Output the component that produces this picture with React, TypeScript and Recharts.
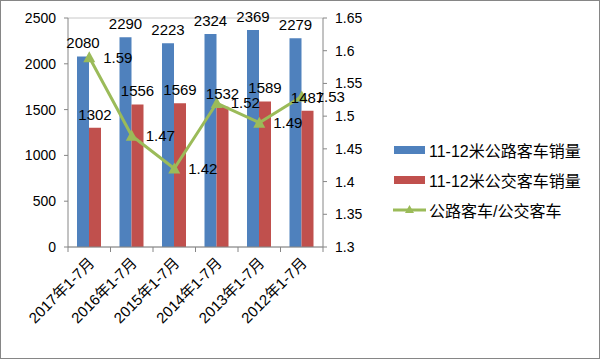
import { Bar, ComposedChart, CartesianGrid, LabelList, Legend, Line, XAxis, YAxis } from "recharts";

const categories = ["2017年1-7月", "2016年1-7月", "2015年1-7月", "2014年1-7月", "2013年1-7月", "2012年1-7月"];
const highwaySales = [2080, 2290, 2223, 2324, 2369, 2279];
const busSales = [1302, 1556, 1569, 1532, 1589, 1487];
const ratio = [1.59, 1.47, 1.42, 1.52, 1.49, 1.53];
const leftTicks = [0, 500, 1000, 1500, 2000, 2500];
const rightTicks = [1.3, 1.35, 1.4, 1.45, 1.5, 1.55, 1.6, 1.65];

const BLUE = "#4F81BD";
const RED = "#C0504D";
const GREEN = "#9BBB59";
const AXIS = "#868686";
const FONT = "'Liberation Sans', 'Noto Sans CJK SC', sans-serif";

const data = categories.map((name, i) => ({
  name,
  highway: highwaySales[i],
  bus: busSales[i],
  ratio: ratio[i],
}));

// plot spans 67..322 in chart coords, so each category is this wide
const BAND = (322 - 67) / categories.length;

function CategoryTick(props: any) {
  const { x, y, payload, index } = props;
  const last = index === categories.length - 1;
  return (
    <g>
      <line x1={x - BAND / 2} x2={x - BAND / 2} y1={y - 8} y2={y - 3} stroke={AXIS} />
      {last && <line x1={x + BAND / 2} x2={x + BAND / 2} y1={y - 8} y2={y - 3} stroke={AXIS} />}
      <text
        x={x + 6}
        y={y + 9}
        transform={`rotate(-45 ${x + 6} ${y + 9})`}
        textAnchor="end"
        fontSize={15}
        fontFamily={FONT}
        fill="#000"
      >
        {payload.value}
      </text>
    </g>
  );
}

function LegendBox() {
  const rows = [
    { label: "11-12米公路客车销量", kind: "bar", color: BLUE },
    { label: "11-12米公交客车销量", kind: "bar", color: RED },
    { label: "公路客车/公交客车", kind: "line", color: GREEN },
  ];
  return (
    <div style={{ paddingLeft: 10 }}>
      {rows.map((r) => (
        <div key={r.label} style={{ display: "flex", alignItems: "center", height: 30 }}>
          <svg width={34} height={14} style={{ marginRight: 2 }}>
            {r.kind === "bar" ? (
              <rect x={1} y={3} width={31} height={8} fill={r.color} />
            ) : (
              <g>
                <line x1={0} x2={33} y1={7} y2={7} stroke={r.color} strokeWidth={3} />
                <polygon points="16.5,2 21,10 12,10" fill={r.color} />
              </g>
            )}
          </svg>
          <span style={{ fontFamily: FONT, fontSize: 16, color: "#000", whiteSpace: "nowrap" }}>{r.label}</span>
        </div>
      ))}
    </div>
  );
}

function Triangle(props: any) {
  const { cx, cy } = props;
  if (cx == null || cy == null) return null;
  return <polygon points={`${cx},${cy - 6} ${cx + 6},${cy + 5} ${cx - 6},${cy + 5}`} fill={GREEN} />;
}

export default function App() {
  return (
    <div
      style={{
        position: "absolute",
        left: 0,
        top: 0,
        width: 600,
        height: 359,
        border: `1px solid ${AXIS}`,
        boxSizing: "border-box",
        background: "#fff",
      }}
    >
      <ComposedChart
        width={598}
        height={357}
        data={data}
        margin={{ top: 17, right: 0, bottom: 0, left: 0 }}
        barGap={0}
      >
        <CartesianGrid vertical={false} stroke="#c8c8c8" />
        <XAxis
          dataKey="name"
          axisLine={{ stroke: AXIS }}
          tickLine={false}
          interval={0}
          height={111}
          tick={<CategoryTick />}
        />
        <YAxis
          yAxisId="left"
          width={67}
          domain={[0, 2500]}
          ticks={leftTicks}
          axisLine={{ stroke: AXIS }}
          tickLine={{ stroke: AXIS }}
          tickSize={4}
          tickMargin={8}
          tick={{ fontSize: 14, fill: "#000", fontFamily: FONT }}
        />
        <YAxis
          yAxisId="right"
          orientation="right"
          width={60}
          domain={[1.3, 1.65]}
          ticks={rightTicks}
          interval={0}
          axisLine={{ stroke: AXIS }}
          tickLine={{ stroke: AXIS }}
          tickSize={4}
          tickMargin={8}
          tick={{ fontSize: 14, fill: "#000", fontFamily: FONT }}
        />
        <Legend
          layout="vertical"
          align="right"
          verticalAlign="top"
          width={216}
          wrapperStyle={{ top: 134 }}
          content={<LegendBox />}
        />
        <Bar yAxisId="left" dataKey="highway" fill={BLUE} barSize={12} isAnimationActive={false}>
          <LabelList dataKey="highway" position="top" offset={8} fontSize={15} fill="#000" fontFamily={FONT} />
        </Bar>
        <Bar yAxisId="left" dataKey="bus" fill={RED} barSize={12} isAnimationActive={false}>
          <LabelList dataKey="bus" position="top" offset={8} fontSize={15} fill="#000" fontFamily={FONT} />
        </Bar>
        <Line
          yAxisId="right"
          dataKey="ratio"
          stroke={GREEN}
          strokeWidth={3}
          dot={<Triangle />}
          activeDot={false}
          isAnimationActive={false}
        >
          <LabelList dataKey="ratio" position="right" offset={14} fontSize={15} fill="#000" fontFamily={FONT} />
        </Line>
      </ComposedChart>
    </div>
  );
}
